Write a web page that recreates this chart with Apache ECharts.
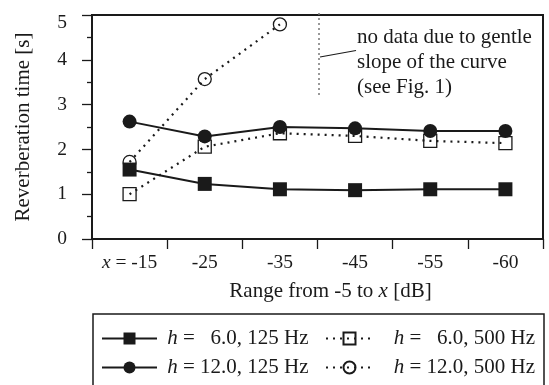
<!DOCTYPE html>
<html>
<head>
<meta charset="utf-8">
<script src="https://cdn.jsdelivr.net/npm/echarts@6/dist/echarts.min.js"></script>
<style>
  html, body { margin: 0; padding: 0; background: #fff; }
  #chart { width: 549px; height: 385px; }
</style>
</head>
<body>
<div id="chart"></div>
<script>
// range end x [dB]
var categories = ['-15', '-25', '-35', '-45', '-55', '-60'];
// reverberation time [s]
var h6_125 = [1.55, 1.23, 1.11, 1.09, 1.11, 1.11];
var h12_125 = [2.62, 2.29, 2.50, 2.47, 2.41, 2.41];
var h6_500 = [1.00, 2.06, 2.36, 2.30, 2.19, 2.14];
var h12_500 = [1.72, 3.57, 4.79, null, null, null];

var names = ['{i|h} =   6.0, 125 Hz', '{i|h} = 12.0, 125 Hz', '{i|h} =   6.0, 500 Hz', '{i|h} = 12.0, 500 Hz'];

var font = "'Liberation Serif', 'Times New Roman', serif";
var ink = '#1a1a1a';
var italic = { fontStyle: 'italic', fontFamily: font, color: ink };

var myChart = echarts.init(document.getElementById('chart'));

function solid(name, data, symbol, size) {
    return {
        name: name,
        type: 'line',
        data: data,
        symbol: symbol,
        symbolSize: size,
        z: 4,
        lineStyle: { color: ink, width: 2, type: 'solid' },
        itemStyle: { color: ink, borderWidth: 0 },
        emphasis: { disabled: true }
    };
}

function dotted(name, data, symbol, size) {
    return {
        name: name,
        type: 'line',
        data: data,
        symbol: symbol,
        symbolSize: size,
        z: 3,
        connectNulls: false,
        lineStyle: { color: ink, width: 2.2, type: [2, 5] },
        itemStyle: { color: 'rgba(0,0,0,0)', borderColor: ink, borderWidth: 1.3 },
        emphasis: { disabled: true }
    };
}

var legendText = {
    fontFamily: font, fontSize: 21, color: ink, lineHeight: 20,
    rich: { i: Object.assign({ fontSize: 21 }, italic) }
};

var option = {
    animation: false,
    backgroundColor: '#fff',
    textStyle: { fontFamily: font, color: ink },
    grid: {
        left: 92, right: 6, top: 15, bottom: 146,
        show: true, borderColor: ink, borderWidth: 2, backgroundColor: 'transparent'
    },
    legend: [{
        orient: 'vertical',
        left: 101, top: 328, padding: 0,
        itemWidth: 55, itemHeight: 15, itemGap: 8,
        data: [names[0], names[1]],
        formatter: function (n) { return ' ' + n; },
        textStyle: legendText
    }, {
        orient: 'vertical',
        left: 325, top: 328, padding: 0,
        itemWidth: 47, itemHeight: 15, itemGap: 8,
        data: [names[2], names[3]],
        formatter: function (n) { return '   ' + n; },
        textStyle: legendText
    }],
    xAxis: {
        type: 'category',
        data: categories,
        boundaryGap: true,
        axisLine: { lineStyle: { color: ink, width: 2 } },
        axisTick: { show: true, length: 10, interval: 0, lineStyle: { color: ink, width: 1.3 } },
        axisLabel: {
            interval: 0,
            fontSize: 19.5, color: ink, margin: 14, fontFamily: font,
            formatter: function (v, i) { return i === 0 ? '{i|x} = ' + v : v; },
            rich: { i: Object.assign({ fontSize: 19.5 }, italic) }
        },
        name: 'Range from -5 to {i|x} [dB]',
        nameLocation: 'middle',
        nameGap: 42,
        nameTextStyle: {
            fontSize: 21, color: ink, fontFamily: font, padding: [0, 0, 0, 26],
            rich: { i: Object.assign({ fontSize: 21 }, italic) }
        },
        splitLine: { show: false }
    },
    yAxis: {
        type: 'value',
        min: 0, max: 5, interval: 1,
        axisLine: { show: true, lineStyle: { color: ink, width: 2 } },
        axisTick: { show: true, length: 10, lineStyle: { color: ink, width: 1.3 } },
        minorTick: { show: true, splitNumber: 2, length: 5, lineStyle: { color: ink, width: 1.3 } },
        axisLabel: {
            fontSize: 19.5, color: ink, margin: 25, fontFamily: font,
            // top label sits a little lower than its tick in the original
            formatter: function (v) { return v === 5 ? '{t|5}' : String(v); },
            rich: { t: { fontSize: 19.5, fontFamily: font, color: ink, padding: [16, 0, 0, 0] } }
        },
        name: 'Reverberation time [s]',
        nameLocation: 'middle',
        nameGap: 58,
        nameTextStyle: { fontSize: 21, color: ink, fontFamily: font },
        splitLine: { show: false }
    },
    graphic: [{
        type: 'line',
        shape: { x1: 319, y1: 13, x2: 319, y2: 96 },
        style: { stroke: '#777', lineWidth: 1.5, lineDash: [2, 3] },
        z: 10
    }, {
        type: 'line',
        shape: { x1: 320, y1: 57, x2: 356, y2: 50.5 },
        style: { stroke: ink, lineWidth: 1.2 },
        z: 10
    }, {
        type: 'text',
        left: 357, top: 25,
        style: {
            text: 'no data due to gentle\nslope of the curve\n(see Fig. 1)',
            font: '21px ' + font,
            lineHeight: 25,
            fill: ink
        },
        z: 10
    }, {
        type: 'rect',
        shape: { x: 93, y: 314, width: 451, height: 90 },
        style: { fill: 'none', stroke: ink, lineWidth: 1.5 },
        z: 1
    }],
    series: [
        dotted(names[3], h12_500, 'circle', 13),
        dotted(names[2], h6_500, 'rect', 13),
        solid(names[1], h12_125, 'circle', 14),
        solid(names[0], h6_125, 'rect', 14)
    ]
};

myChart.setOption(option);
</script>
</body>
</html>
